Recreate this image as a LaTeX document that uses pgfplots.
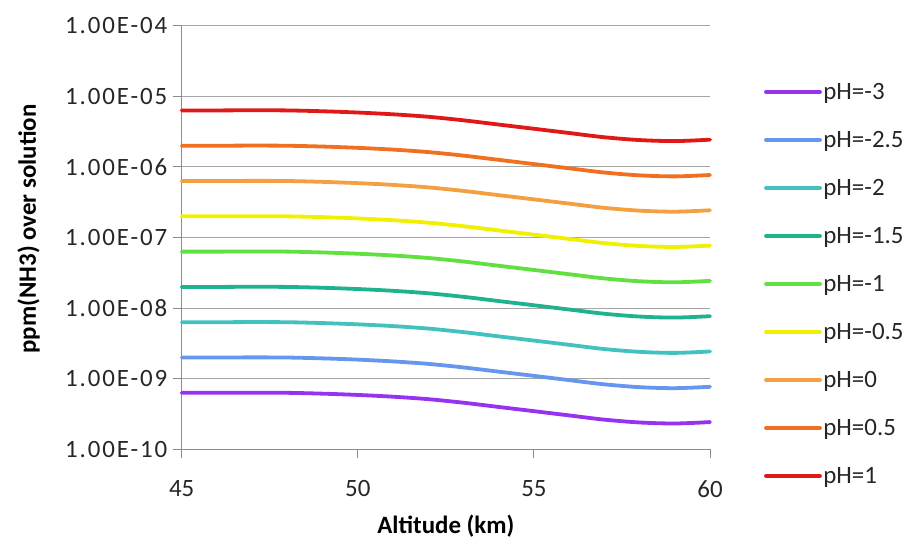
\documentclass[border=0pt]{standalone}
\usepackage{pgfplots}
\pgfplotsset{compat=1.18}
\usepackage{pgfplotstable}
\usepackage{fontspec}
\setmainfont{Carlito}
\newfontfamily\tickfont{Carlito}[LetterSpace=7.5]

\definecolor{cA}{HTML}{9632F0}
\definecolor{cB}{HTML}{6796EE}
\definecolor{cC}{HTML}{42C2BE}
\definecolor{cD}{HTML}{1EB28E}
\definecolor{cE}{HTML}{62E042}
\definecolor{cF}{HTML}{F0F000}
\definecolor{cG}{HTML}{F5A040}
\definecolor{cH}{HTML}{F07020}
\definecolor{cI}{HTML}{E01818}
\definecolor{axgray}{HTML}{8C8C8C}
\definecolor{grgray}{HTML}{A6A6A6}

% altitude (km) vs ppm(NH3) over solution
\pgfplotstableread{
x   m30      m25      m20      m15      m10      m05      p00      p05      p10
45  6.31e-10 1.995e-9 6.31e-9  1.995e-8 6.31e-8  1.995e-7 6.31e-7  1.995e-6 6.31e-6
46  6.31e-10 1.995e-9 6.31e-9  1.995e-8 6.31e-8  1.995e-7 6.31e-7  1.995e-6 6.31e-6
47  6.34e-10 2.005e-9 6.34e-9  2.005e-8 6.34e-8  2.005e-7 6.34e-7  2.005e-6 6.34e-6
48  6.31e-10 1.995e-9 6.31e-9  1.995e-8 6.31e-8  1.995e-7 6.31e-7  1.995e-6 6.31e-6
49  6.14e-10 1.942e-9 6.14e-9  1.942e-8 6.14e-8  1.942e-7 6.14e-7  1.942e-6 6.14e-6
50  5.89e-10 1.863e-9 5.89e-9  1.863e-8 5.89e-8  1.863e-7 5.89e-7  1.863e-6 5.89e-6
51  5.56e-10 1.758e-9 5.56e-9  1.758e-8 5.56e-8  1.758e-7 5.56e-7  1.758e-6 5.56e-6
52  5.13e-10 1.622e-9 5.13e-9  1.622e-8 5.13e-8  1.622e-7 5.13e-7  1.622e-6 5.13e-6
53  4.57e-10 1.445e-9 4.57e-9  1.445e-8 4.57e-8  1.445e-7 4.57e-7  1.445e-6 4.57e-6
54  3.98e-10 1.259e-9 3.98e-9  1.259e-8 3.98e-8  1.259e-7 3.98e-7  1.259e-6 3.98e-6
55  3.47e-10 1.097e-9 3.47e-9  1.097e-8 3.47e-8  1.097e-7 3.47e-7  1.097e-6 3.47e-6
56  3.02e-10 0.955e-9 3.02e-9  0.955e-8 3.02e-8  0.955e-7 3.02e-7  0.955e-6 3.02e-6
57  2.63e-10 0.832e-9 2.63e-9  0.832e-8 2.63e-8  0.832e-7 2.63e-7  0.832e-6 2.63e-6
58  2.40e-10 0.759e-9 2.40e-9  0.759e-8 2.40e-8  0.759e-7 2.40e-7  0.759e-6 2.40e-6
59  2.32e-10 0.734e-9 2.32e-9  0.734e-8 2.32e-8  0.734e-7 2.32e-7  0.734e-6 2.32e-6
60  2.43e-10 0.768e-9 2.43e-9  0.768e-8 2.43e-8  0.768e-7 2.43e-7  0.768e-6 2.43e-6
}\datatable

\begin{document}
\begin{tikzpicture}[x=1bp,y=1bp]
\path[use as bounding box] (0,0) rectangle (913,540);
\begin{axis}[
  at={(181.7bp,90.7bp)}, anchor=south west,
  scale only axis, width=528.3bp, height=423.6bp,
  xmin=45, xmax=60, ymin=1e-10, ymax=1e-4,
  ymode=log, log basis y=10, yminorticks=false,
  axis lines*=left,
  axis line style={axgray, line width=0.9bp},
  every tick/.style={axgray, line width=0.9bp},
  tick align=outside, major tick length=9bp,
  ymajorgrids, grid style={grgray, line width=0.9bp},
  /pgf/number format/assume math mode=true,
  xtick={45,50,55,60},
  ytick={1e-10,1e-9,1e-8,1e-7,1e-6,1e-5,1e-4},
  yticklabels={1.00E-10,1.00E-09,1.00E-08,1.00E-07,1.00E-06,1.00E-05,1.00E-04},
  tick label style={font=\fontsize{25}{28}\selectfont, text=black!85},
  yticklabel style={font=\tickfont\fontsize{25}{28}\selectfont, xshift=-2bp},
  xticklabel style={yshift=-19bp},
  xlabel={\textbf{Altitude (km)}},
  ylabel={\textbf{ppm(NH3) over solution}},
  label style={font=\fontsize{25}{28}\selectfont},
  xlabel style={at={(axis description cs:0.5,-0.182)}, anchor=center},
  ylabel style={at={(axis description cs:-0.29,0.52)}, anchor=center, rotate=0},
  legend style={at={(axis description cs:1.102,0.869)}, anchor=north west,
    draw=none, fill=none, inner sep=0pt, row sep=27.4bp,
    nodes={inner sep=1.5bp, font=\fontsize{25}{28}\selectfont, text=black!85}},
  legend cell align=left,
  legend image code/.code={\draw[#1] (0bp,0bp) -- (54bp,0bp);},
  every axis plot/.append style={line width=3.8bp, smooth, tension=0.5, line cap=round},
  clip=false,
]
\addplot[cA] table[x=x,y=m30]{\datatable}; \addlegendentry{pH=-3}
\addplot[cB] table[x=x,y=m25]{\datatable}; \addlegendentry{pH=-2.5}
\addplot[cC] table[x=x,y=m20]{\datatable}; \addlegendentry{pH=-2}
\addplot[cD] table[x=x,y=m15]{\datatable}; \addlegendentry{pH=-1.5}
\addplot[cE] table[x=x,y=m10]{\datatable}; \addlegendentry{pH=-1}
\addplot[cF] table[x=x,y=m05]{\datatable}; \addlegendentry{pH=-0.5}
\addplot[cG] table[x=x,y=p00]{\datatable}; \addlegendentry{pH=0}
\addplot[cH] table[x=x,y=p05]{\datatable}; \addlegendentry{pH=0.5}
\addplot[cI] table[x=x,y=p10]{\datatable}; \addlegendentry{pH=1}
\end{axis}
\end{tikzpicture}
\end{document}
